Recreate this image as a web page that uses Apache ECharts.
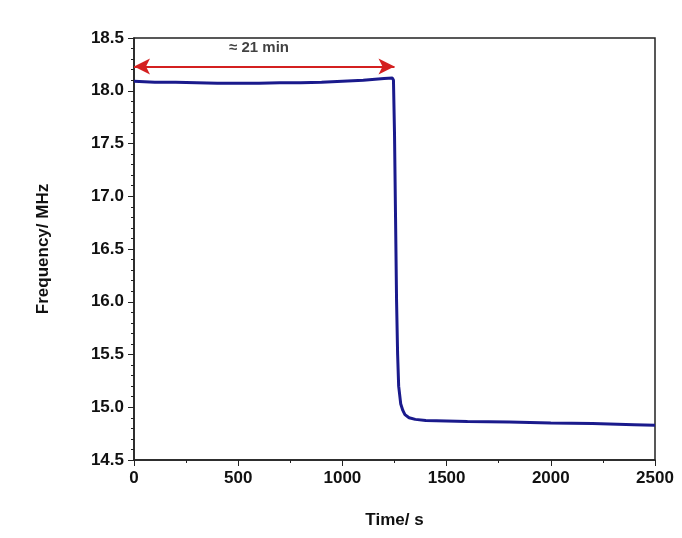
<!DOCTYPE html>
<html><head><meta charset="utf-8">
<script src="https://cdn.jsdelivr.net/npm/echarts@6/dist/echarts.min.js"></script>
<style>html,body{margin:0;background:#fff}#c{width:682px;height:538px}</style>
</head><body><div id="c"></div>
<script>
const timeS = [0,100,200,300,400,500,600,700,800,900,1000,1100,1200,1240,1245,1250,1255,1260,1265,1270,1280,1290,1300,1320,1350,1400,1500,1600,1800,2000,2200,2400,2500];
const freqMHz = [18.09,18.08,18.08,18.075,18.07,18.07,18.07,18.075,18.075,18.08,18.09,18.10,18.115,18.12,18.1,17.6,16.8,16.0,15.5,15.2,15.03,14.97,14.93,14.9,14.885,14.875,14.87,14.865,14.86,14.85,14.845,14.835,14.83];
const arrowX = [0,1250], arrowY = 18.23;
const label = "≈ 21 min", labelX = 600, labelY = 18.41;
const chart = echarts.init(document.getElementById('c'));
const axisFont = {fontFamily:'Liberation Sans',fontWeight:'bold',fontSize:17,color:'#111'};
chart.setOption({
  animation:false,
  grid:{left:134,right:27,top:38,bottom:78,show:true,borderColor:'#222',borderWidth:1.5},
  xAxis:{type:'value',min:0,max:2500,interval:500,name:'Time/ s',nameLocation:'middle',nameGap:52,
    nameTextStyle:axisFont,axisLabel:Object.assign({margin:10,formatter:v=>String(v)},axisFont),
    axisLine:{lineStyle:{color:'#222',width:1.5}},axisTick:{length:6,lineStyle:{color:'#222'}},
    minorTick:{show:true,splitNumber:2,length:3},splitLine:{show:false}},
  yAxis:{type:'value',min:14.5,max:18.5,interval:0.5,name:'Frequency/ MHz',nameLocation:'middle',nameGap:82,
    nameTextStyle:axisFont,axisLabel:Object.assign({formatter:v=>v.toFixed(1),margin:10},axisFont),
    axisLine:{lineStyle:{color:'#222',width:1.5}},axisTick:{length:6,lineStyle:{color:'#222'}},
    minorTick:{show:true,splitNumber:5,length:3},splitLine:{show:false}},
  series:[
    {type:'line',data:timeS.map((t,i)=>[t,freqMHz[i]]),showSymbol:false,lineStyle:{color:'#1a1a8c',width:3},
     markLine:{silent:true,symbol:['arrow','arrow'],symbolSize:[12,16],label:{show:false},
       lineStyle:{color:'#d42020',width:2,type:'solid'},
       data:[[{coord:[arrowX[0],arrowY]},{coord:[arrowX[1],arrowY]}]]}},
    {type:'scatter',data:[[labelX,labelY]],symbolSize:0,
     label:{show:true,formatter:label,position:'inside',fontFamily:'Liberation Sans',fontWeight:'bold',fontSize:15,color:'#111'}}
  ]
});
</script></body></html>
